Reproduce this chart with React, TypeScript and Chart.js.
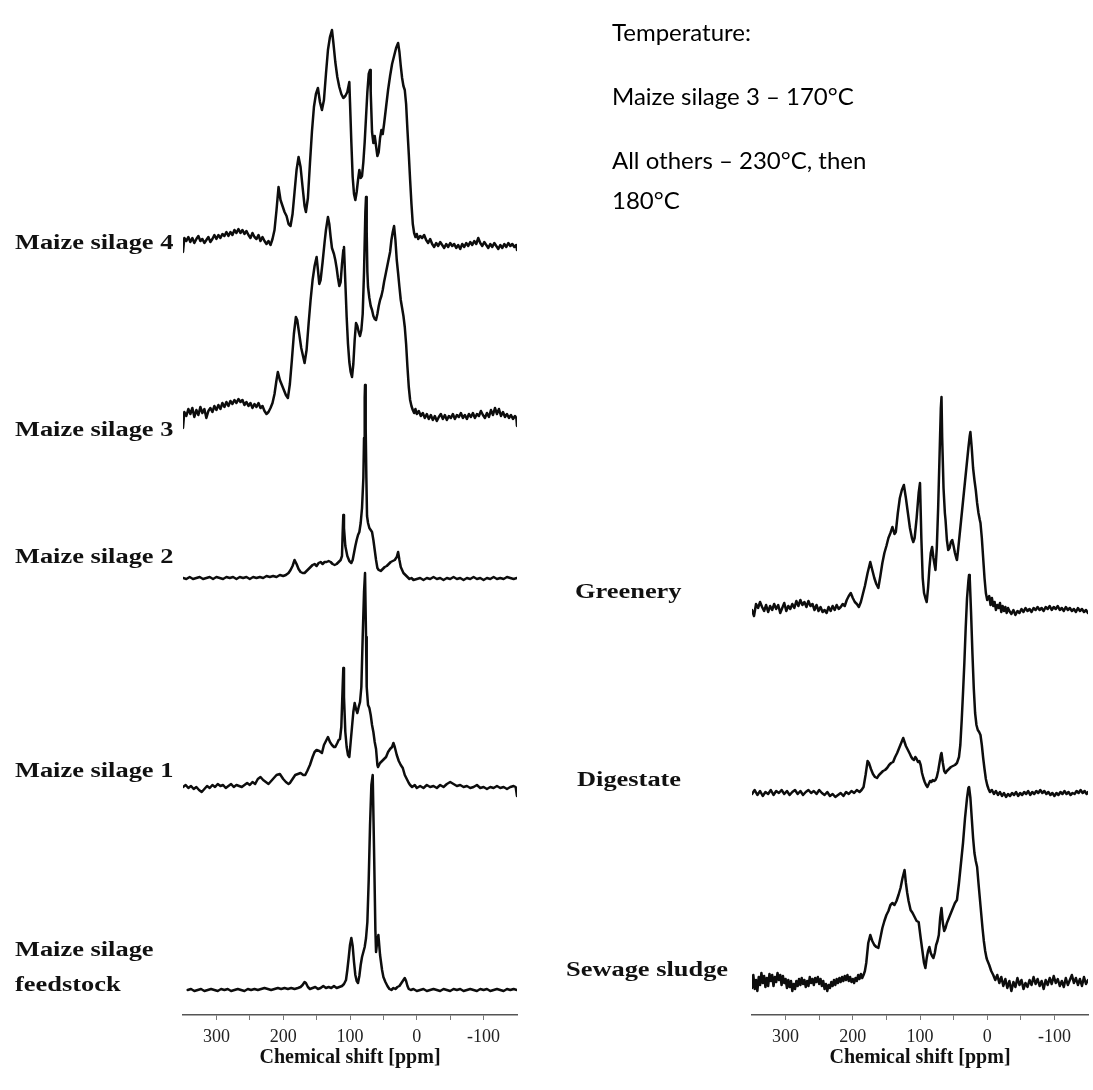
import React, { useEffect, useRef } from "react";
import { Chart, registerables } from "chart.js";

Chart.register(...registerables);

// ---------- axis ----------
const X_MIN = -150;
const X_MAX = 350;
const TICK_VALUES = [300, 250, 200, 150, 100, 50, 0, -50, -100];
const TICK_LABELS = ["300", "", "200", "", "100", "", "0", "", "-100"];
const AXIS_TITLE = "Chemical shift [ppm]";
const Y_MAX = 1015;

// ---------- series names ----------
const LEFT_NAMES = ["Maize silage 4", "Maize silage 3", "Maize silage 2", "Maize silage 1", "Maize silage\nfeedstock"];
const RIGHT_NAMES = ["Greenery", "Digestate", "Sewage sludge"];

// vertical stacking offsets (baseline of each trace)
const LEFT_OFFSETS = [773, 603, 437, 228, 25];
const RIGHT_OFFSETS = [407, 222, 32];

// ---------- spectra: [ppm, intensity above own baseline] ----------
const MAIZE_4 = [
  [350,-10],[348,4],[345,1],[342,5],[339,0],[336,4],[333,-1],[330,3],[327,6],[324,1],[321,3],[318,-1],[315,2],[312,5],[309,0],[306,3],[303,7],[300,3],[297,7],[294,4],[291,8],[288,6],[285,10],[282,6],[279,10],[276,7],[273,12],[270,9],[267,13],[264,9],[261,12],[258,8],[255,11],[252,7],[249,4],[246,9],[243,5],[240,3],[237,7],[234,1],[231,5],[228,1],[225,-2],[222,1],[219,-3],[216,3],[213,12],[210,32],[207,55],[204,42],[201,36],[198,30],[195,26],[192,18],[189,16],[186,28],[183,50],[180,72],[177,85],[174,75],[171,55],[168,36],[166,30],[163,44],[160,78],[157,110],[154,135],[151,148],[148,154],[145,140],[142,132],[139,142],[136,168],[133,192],[130,205],[127,212],[125,200],[122,180],[119,165],[116,155],[113,148],[110,144],[107,146],[104,150],[101,160],[100,140],[98,100],[96,65],[94,48],[92,42],[90,50],[88,62],[86,72],[84,64],[82,66],[80,80],[78,100],[76,125],[74,150],[72,168],[70,172],[69,150],[67,110],[65,99],[63,106],[61,96],[59,86],[57,90],[55,104],[53,112],[51,108],[49,118],[46,135],[43,152],[40,166],[37,178],[34,186],[31,194],[28,199],[26,190],[24,176],[22,164],[20,156],[18,152],[16,138],[14,112],[12,88],[10,62],[8,38],[6,18],[4,9],[2,5],[0,8],
  [-2,3],[-5,6],[-8,4],[-11,7],[-14,2],[-17,-1],[-20,3],[-23,-2],[-26,-5],[-29,-1],[-32,-4],[-35,0],[-38,-3],[-41,-6],[-44,-2],[-47,-5],[-50,-1],[-53,-4],[-56,-2],[-59,-6],[-62,-3],[-65,-7],[-68,-2],[-71,-5],[-74,-1],[-77,-4],[-80,0],[-83,-3],[-86,1],[-89,-2],[-92,4],[-95,-1],[-98,-4],[-101,0],[-104,-3],[-107,-6],[-110,-2],[-113,-5],[-116,-1],[-119,-4],[-122,-7],[-125,-3],[-128,-6],[-131,-2],[-134,-5],[-137,-1],[-140,-4],[-143,-2],[-146,-5],[-149,-3],[-150,-8]
];

const MAIZE_3 = [
  [350,-16],[348,0],[345,-4],[342,3],[339,-2],[336,4],[333,-5],[330,2],[327,-3],[324,5],[321,-1],[318,3],[315,-6],[312,1],[309,4],[306,0],[303,6],[300,2],[297,7],[294,3],[291,9],[288,5],[285,10],[282,6],[279,11],[276,8],[273,12],[270,9],[267,13],[264,10],[261,12],[258,7],[255,10],[252,6],[249,9],[246,4],[243,8],[240,5],[237,9],[234,4],[231,6],[228,1],[225,-2],[222,0],[219,4],[216,9],[213,18],[210,32],[208,40],[205,32],[202,27],[199,22],[196,17],[193,14],[190,28],[187,52],[184,78],[181,95],[179,92],[176,78],[173,64],[170,55],[168,49],[165,62],[162,88],[159,112],[156,132],[153,146],[150,155],[148,142],[146,128],[144,132],[141,150],[138,170],[136,182],[133,195],[131,188],[129,175],[127,164],[124,158],[122,152],[120,144],[118,134],[116,126],[114,130],[112,148],[110,162],[109,165],[107,130],[105,95],[103,68],[101,50],[99,40],[97,35],[95,48],[93,72],[91,89],[89,86],[87,80],[85,76],[83,82],[81,98],[79,140],[77,200],[76,215],[75,180],[74,140],[73,125],[71,114],[69,106],[67,102],[65,96],[63,93],[61,92],[59,98],[57,106],[55,112],[53,116],[51,122],[49,130],[46,140],[43,150],[40,160],[38,172],[36,180],[34,186],[32,172],[30,152],[28,139],[26,125],[24,112],[22,104],[20,96],[18,85],[16,68],[14,45],[12,25],[10,12],[8,6],[6,2],[4,-1],[2,3],[0,-2],
  [-3,1],[-6,-4],[-9,-1],[-12,-6],[-15,-2],[-18,-7],[-21,-3],[-24,-8],[-27,-4],[-30,-9],[-33,-5],[-36,-2],[-39,-7],[-42,-3],[-45,-8],[-48,-4],[-51,-6],[-54,-2],[-57,-7],[-60,-3],[-63,-5],[-66,-1],[-69,-6],[-72,-3],[-75,-7],[-78,-2],[-81,-5],[-84,-1],[-87,-6],[-90,-2],[-93,-4],[-96,1],[-99,-3],[-102,-6],[-105,-1],[-108,-5],[-111,2],[-114,-3],[-117,4],[-120,-2],[-123,3],[-126,-4],[-129,0],[-132,-5],[-135,-2],[-138,-6],[-141,-3],[-144,-7],[-147,-4],[-149,-6],[-150,-14]
];

const MAIZE_2 = [
  [350,0],[345,-1],[340,1],[335,-1],[330,0],[325,1],[320,-1],[315,0],[310,1],[305,-1],[300,1],[295,0],[290,-1],[285,1],[280,0],[275,1],[270,-1],[265,1],[260,0],[255,1],[250,-1],[245,1],[240,0],[235,1],[230,0],[225,2],[220,1],[215,2],[210,1],[205,3],[200,2],[196,3],[192,5],[189,8],[186,12],[183,18],[180,14],[177,9],[174,6],[171,5],[168,5],[165,7],[162,9],[159,11],[156,13],[153,14],[150,12],[147,15],[144,16],[141,14],[138,16],[135,16],[132,17],[129,16],[126,14],[123,13],[120,14],[117,16],[114,18],[112,22],[111,45],[110,63],[109,50],[107,32],[104,22],[101,17],[98,15],[96,18],[94,25],[92,32],[90,38],[88,43],[86,46],[84,55],[82,70],[80,100],[79,140],[78,180],[77.5,193],[76.5,150],[75.5,100],[74.5,62],[73,55],[71,50],[69,48],[67,46],[65,38],[63,28],[61,18],[59,10],[57,8],[54,7],[51,9],[48,11],[45,12],[42,14],[39,16],[36,17],[33,18],[30,21],[28,26],[26,18],[24,11],[22,8],[20,5],[17,3],[14,1],[11,-1],[8,0],[5,-2],[0,-1],
  [-5,0],[-10,-2],[-15,0],[-20,-1],[-25,1],[-30,-1],[-35,0],[-40,-2],[-45,0],[-50,-1],[-55,1],[-60,-1],[-65,0],[-70,-2],[-75,0],[-80,-1],[-85,1],[-90,-1],[-95,0],[-100,-2],[-105,0],[-110,-1],[-115,1],[-120,-1],[-125,0],[-130,-1],[-135,1],[-140,0],[-145,-1],[-150,0]
];

const MAIZE_1 = [
  [350,0],[346,2],[342,-1],[338,1],[334,-2],[330,0],[326,-3],[322,-5],[318,-2],[314,1],[310,-1],[306,2],[302,0],[298,3],[294,1],[290,2],[286,-1],[282,1],[278,3],[274,0],[270,2],[266,1],[262,0],[258,2],[254,4],[250,2],[246,5],[242,3],[238,8],[234,10],[230,7],[226,5],[222,3],[218,6],[214,9],[210,12],[205,13],[200,8],[196,5],[192,3],[190,4],[186,8],[182,12],[178,13],[174,14],[170,12],[167,12],[164,16],[160,22],[156,30],[153,35],[150,37],[146,36],[142,34],[139,42],[136,46],[133,50],[130,45],[127,42],[124,40],[122,40],[119,44],[117,47],[115,48],[113,60],[111,100],[110,119],[109,90],[107,55],[105,40],[103,32],[101,30],[99,45],[97,60],[95,75],[93,84],[91,78],[89,74],[87,80],[85,85],[83,100],[81,150],[79,195],[77.5,214],[76,150],[75,100],[73,82],[71,79],[69,72],[67,62],[65,55],[63,45],[61,38],[59,22],[58,20],[55,24],[52,26],[49,28],[46,30],[43,35],[40,38],[37,40],[35,44],[33,40],[30,32],[27,26],[24,22],[21,19],[18,12],[15,8],[12,4],[10,2],[7,0],[3,2],[0,-1],
  [-5,1],[-10,-1],[-15,2],[-20,0],[-25,1],[-30,-1],[-35,2],[-40,0],[-45,3],[-50,5],[-55,3],[-60,1],[-65,2],[-70,0],[-75,1],[-80,-1],[-85,0],[-90,2],[-95,-1],[-100,0],[-105,-2],[-110,0],[-115,-1],[-120,1],[-125,-1],[-130,0],[-135,-2],[-140,0],[-145,1],[-148,0],[-150,-9]
];

const MAIZE_FEEDSTOCK = [
  [343,0],[338,1],[333,-1],[328,0],[323,1],[318,-1],[313,0],[308,1],[303,0],[298,-1],[293,1],[288,0],[283,1],[278,-1],[273,0],[268,1],[263,0],[258,-1],[253,1],[248,0],[243,1],[238,0],[233,1],[228,2],[223,1],[218,0],[213,1],[208,2],[203,1],[198,2],[193,1],[188,2],[183,1],[178,2],[174,3],[171,5],[168,8],[166,7],[163,3],[160,1],[156,2],[152,3],[148,1],[144,2],[140,4],[136,2],[132,3],[128,2],[124,4],[120,2],[116,3],[112,4],[109,6],[106,10],[104,20],[102,32],[100,45],[98,52],[96,44],[94,28],[92,15],[90,9],[88,7],[86,14],[84,25],[82,33],[80,38],[78,43],[76,52],[74,68],[72,110],[70,165],[68,205],[66,215],[64,140],[62,60],[61,38],[59,50],[57.5,55],[55,35],[52,20],[50,13],[47,8],[44,4],[41,1],[38,0],[35,2],[32,1],[29,3],[26,4],[23,7],[20,10],[18,12],[16,9],[14,4],[12,1],[9,0],[5,1],[0,-1],
  [-5,0],[-10,1],[-15,-1],[-20,0],[-25,1],[-30,0],[-35,-1],[-40,1],[-45,0],[-50,-1],[-55,1],[-60,0],[-65,1],[-70,-1],[-75,0],[-80,1],[-85,0],[-90,-1],[-95,1],[-100,0],[-105,1],[-110,-1],[-115,0],[-120,1],[-125,0],[-130,-1],[-135,1],[-140,0],[-145,1],[-150,0]
];

const GREENERY = [
  [350,-2],[347,-8],[344,4],[341,0],[338,6],[335,1],[332,-3],[329,3],[326,-4],[323,2],[320,-2],[317,4],[314,-1],[311,3],[308,-5],[305,0],[302,5],[299,-3],[296,2],[293,-1],[290,4],[287,0],[284,7],[281,2],[278,8],[275,3],[272,6],[269,1],[266,7],[263,2],[260,4],[257,-2],[254,3],[251,-3],[248,1],[245,-4],[242,-2],[239,-5],[236,1],[233,-3],[230,2],[227,-2],[224,3],[221,-1],[218,1],[215,4],[212,2],[209,8],[206,12],[203,15],[200,10],[197,6],[194,4],[191,1],[188,6],[185,14],[182,22],[178,35],[174,46],[171,38],[168,30],[165,24],[162,20],[159,32],[156,45],[153,55],[150,62],[147,70],[144,75],[141,81],[138,74],[136,76],[133,95],[130,110],[127,118],[124,123],[121,110],[118,95],[115,80],[112,70],[110,66],[108,70],[105,90],[102,115],[100,125],[98,70],[96,30],[94,15],[92,10],[90,6],[88,20],[86,40],[84,55],[82,61],[80,50],[78,42],[77,38],[75,60],[73,100],[71,150],[69,200],[68,211],[67,170],[65,120],[63,95],[62,88],[60,68],[58,58],[56,60],[54,66],[52,68],[50,62],[48,55],[46,50],[45,48],[43,60],[40,80],[37,100],[34,120],[31,140],[28,160],[26,172],[25,176],[23,160],[21,140],[19,128],[17,118],[15,105],[13,95],[11,88],[10,85],[8,70],[6,50],[4,30],[2,15],[0,8],[-1,8],
  [-3,12],[-5,3],[-7,10],[-9,2],[-11,6],[-13,-2],[-15,3],[-17,0],[-19,5],[-21,-4],[-23,2],[-25,-3],[-27,1],[-29,-5],[-31,0],[-33,-3],[-36,-6],[-39,-2],[-42,-7],[-45,-3],[-48,-5],[-51,-1],[-54,-4],[-57,0],[-60,-3],[-63,-1],[-66,-4],[-69,0],[-72,-2],[-75,1],[-78,-2],[-81,0],[-84,-3],[-87,1],[-90,-1],[-93,2],[-96,-2],[-99,1],[-102,-1],[-105,2],[-108,-2],[-111,0],[-114,-3],[-117,1],[-120,-2],[-123,0],[-126,-3],[-129,-1],[-132,-4],[-135,0],[-138,-3],[-141,-1],[-144,-4],[-147,-2],[-150,-5]
];

const DIGESTATE = [
  [350,-1],[346,3],[342,-2],[338,2],[334,-3],[330,1],[326,-1],[322,3],[318,-2],[314,2],[310,0],[306,3],[302,-1],[298,2],[294,-2],[290,1],[286,3],[282,-1],[278,2],[274,-2],[270,1],[266,3],[262,0],[258,2],[254,-1],[250,3],[246,0],[242,-2],[238,1],[234,-3],[230,-1],[226,-4],[222,-2],[218,0],[214,-3],[210,1],[206,-1],[202,2],[198,0],[194,3],[190,1],[187,3],[184,6],[181,18],[178,32],[176,30],[173,24],[170,19],[167,16],[164,15],[161,18],[158,20],[155,22],[152,23],[149,25],[146,28],[143,30],[140,31],[137,36],[134,40],[131,45],[128,50],[125,55],[123,51],[121,47],[118,43],[115,39],[113,36],[111,34],[109,33],[107,36],[105,34],[103,31],[101,32],[99,28],[97,20],[95,15],[93,11],[91,8],[89,6],[87,9],[85,12],[83,11],[81,13],[79,12],[77,13],[75,16],[73,22],[71,30],[69,38],[68,40],[66,30],[64,22],[62,20],[60,22],[57,24],[54,26],[51,27],[48,28],[45,30],[42,36],[40,48],[38,72],[36,100],[34,130],[32,165],[30,195],[28,212],[27,218],[26,215],[24,180],[22,140],[20,105],[18,80],[16,68],[14,63],[12,61],[10,58],[8,48],[6,35],[4,24],[2,14],[0,8],[-2,4],
  [-4,1],[-7,3],[-10,-1],[-13,2],[-16,-2],[-19,1],[-22,-3],[-25,0],[-28,-4],[-31,-1],[-34,-3],[-37,0],[-40,-2],[-43,1],[-46,-3],[-49,0],[-52,-2],[-55,1],[-58,-1],[-61,2],[-64,-2],[-67,1],[-70,-1],[-73,2],[-76,0],[-79,3],[-82,0],[-85,2],[-88,-1],[-91,1],[-94,-2],[-97,0],[-100,-3],[-103,0],[-106,-2],[-109,1],[-112,-1],[-115,2],[-118,-1],[-121,1],[-124,-2],[-127,0],[-130,-1],[-133,2],[-136,0],[-139,3],[-142,0],[-145,2],[-148,-1],[-150,1]
];

const SEWAGE_SLUDGE = [
  [350,-5],[348,8],[346,-6],[344,3],[342,-8],[340,6],[338,-2],[336,10],[334,0],[332,7],[330,-4],[328,5],[326,-3],[324,9],[322,2],[320,8],[318,-3],[316,6],[314,1],[312,10],[310,3],[308,8],[306,-2],[304,7],[302,0],[300,4],[298,-5],[296,3],[294,-4],[292,2],[290,-8],[288,-1],[286,-6],[284,2],[282,-3],[280,4],[278,-2],[276,5],[274,-1],[272,3],[270,-4],[268,2],[266,-3],[264,6],[262,0],[260,4],[258,-2],[256,5],[254,1],[252,6],[250,-1],[248,4],[246,-3],[244,2],[242,-6],[240,-1],[238,-8],[236,-2],[234,-5],[232,1],[230,-3],[228,3],[226,-2],[224,4],[222,0],[220,5],[218,1],[216,6],[214,2],[212,7],[210,3],[208,8],[206,2],[204,6],[202,1],[200,4],[198,0],[196,5],[194,2],[192,8],[190,4],[188,9],[186,5],[184,8],[182,12],[180,20],[177,40],[174,48],[171,42],[168,38],[165,36],[162,35],[159,45],[156,55],[153,62],[150,68],[147,72],[144,78],[141,80],[138,78],[135,82],[132,88],[129,95],[126,105],[123,113],[121,100],[119,90],[117,82],[114,73],[111,70],[108,66],[105,62],[102,61],[99,45],[96,30],[94,20],[92,15],[90,25],[88,32],[86,36],[84,30],[82,27],[80,25],[78,30],[76,38],[74,42],[72,48],[70,65],[68,75],[66,60],[64,52],[62,55],[60,60],[57,65],[54,70],[51,75],[48,80],[45,83],[42,100],[39,120],[36,140],[33,165],[30,185],[28,195],[27,196],[25,185],[23,165],[21,145],[19,130],[17,122],[15,116],[13,100],[11,85],[9,70],[7,55],[5,42],[3,32],[1,25],[0,23],
  [-3,18],[-6,12],[-9,8],[-12,3],[-15,8],[-18,0],[-21,6],[-24,-3],[-27,4],[-30,-5],[-33,2],[-36,-8],[-39,1],[-42,-4],[-45,5],[-48,-2],[-51,3],[-54,-6],[-57,0],[-60,-4],[-63,3],[-66,-2],[-69,6],[-72,-1],[-75,4],[-78,-3],[-81,2],[-84,-6],[-87,3],[-90,-2],[-93,5],[-96,-1],[-99,7],[-102,0],[-105,4],[-108,-3],[-111,2],[-114,-4],[-117,5],[-120,-2],[-123,3],[-126,8],[-129,0],[-132,5],[-135,-2],[-138,4],[-141,-3],[-144,6],[-147,-1],[-150,3]
];

const LEFT_SERIES = [MAIZE_4, MAIZE_3, MAIZE_2, MAIZE_1, MAIZE_FEEDSTOCK];
const RIGHT_SERIES = [GREENERY, DIGESTATE, SEWAGE_SLUDGE];

// ---------- annotation text ----------
const NOTE_LINES = ["Temperature:", "Maize silage 3 \u2013 170\u00b0C", "All others \u2013 230\u00b0C, then", "180\u00b0C"];

// ---------- layout (positions only) ----------
const LEFT_LABEL_POS = [[15, 243], [15, 430], [15, 557], [15, 771], [15, 950]];
const RIGHT_LABEL_POS = [[575, 592], [577, 780], [566, 970]];
const NOTE_POS = [[612, 32], [612, 96], [612, 160], [612, 200]];

const SERIF = "'Liberation Serif', 'Times New Roman', serif";

function SpectraPanel(props: { series: number[][][]; offsets: number[]; left: number; width: number; padLeft: number; padRight: number }) {
  const ref = useRef<HTMLCanvasElement>(null);
  useEffect(() => {
    const chart = new Chart(ref.current as HTMLCanvasElement, {
      type: "line",
      data: {
        datasets: props.series.map((s, i) => ({
          data: s.map(([x, v]) => ({ x, y: v + props.offsets[i] })),
          borderColor: "#0d0d0d",
          borderWidth: 2.5,
          pointRadius: 0,
          tension: 0,
          fill: false,
          borderJoinStyle: "round",
          borderCapStyle: "round",
        })),
      },
      options: {
        animation: false,
        responsive: false,
        maintainAspectRatio: false,
        events: [],
        layout: { padding: { left: props.padLeft, right: props.padRight, top: 0, bottom: 0 } },
        plugins: { legend: { display: false }, tooltip: { enabled: false } },
        scales: {
          x: {
            type: "linear",
            reverse: true,
            min: X_MIN,
            max: X_MAX,
            afterBuildTicks: (s: any) => {
              s.ticks = TICK_VALUES.map((v) => ({ value: v }));
            },
            afterFit: (s: any) => {
              s.height = 75;
            },
            grid: { display: true, drawOnChartArea: false, drawTicks: true, tickLength: 5, color: "#777", lineWidth: 1 },
            border: { display: true, color: "#555", width: 1.5 },
            ticks: {
              autoSkip: false,
              maxRotation: 0,
              padding: 6,
              color: "#222",
              font: { family: SERIF, size: 18 },
              callback: (_v: any, i: number) => TICK_LABELS[i],
            },
            title: {
              display: true,
              text: AXIS_TITLE,
              color: "#111",
              font: { family: SERIF, size: 20, weight: "bold" },
              padding: { top: 0, bottom: 20 },
            },
          },
          y: { display: false, min: 0, max: Y_MAX },
        },
      } as any,
    });
    return () => chart.destroy();
  }, []);
  return (
    <canvas
      ref={ref}
      width={props.width}
      height={1090}
      style={{ position: "absolute", left: props.left, top: 0, width: props.width, height: 1090 }}
    />
  );
}

function SeriesLabel(props: { text: string; x: number; y: number }) {
  return (
    <div
      style={{
        position: "absolute",
        left: props.x,
        top: props.y - 12,
        fontFamily: SERIF,
        fontWeight: "bold",
        fontSize: 20,
        lineHeight: "35px",
        marginTop: -6,
        whiteSpace: "pre",
        color: "#111",
        transform: "scaleX(1.32)",
        transformOrigin: "left center",
      }}
    >
      {props.text}
    </div>
  );
}

export default function App() {
  return (
    <div style={{ position: "absolute", left: 0, top: 0, width: 1093, height: 1090, background: "#fff", overflow: "hidden" }}>
      <SpectraPanel series={LEFT_SERIES} offsets={LEFT_OFFSETS} left={0} width={540} padLeft={183} padRight={23} />
      <SpectraPanel series={RIGHT_SERIES} offsets={RIGHT_OFFSETS} left={560} width={533} padLeft={192} padRight={5} />
      {LEFT_NAMES.map((n, i) => (
        <SeriesLabel key={n} text={n} x={LEFT_LABEL_POS[i][0]} y={LEFT_LABEL_POS[i][1]} />
      ))}
      {RIGHT_NAMES.map((n, i) => (
        <SeriesLabel key={n} text={n} x={RIGHT_LABEL_POS[i][0]} y={RIGHT_LABEL_POS[i][1]} />
      ))}
      {NOTE_LINES.map((t, i) => (
        <div
          key={t}
          style={{
            position: "absolute",
            left: NOTE_POS[i][0],
            top: NOTE_POS[i][1] - 16,
            fontFamily: "Lato, 'Open Sans', sans-serif",
            fontSize: 24,
            lineHeight: "32px",
            color: "#000",
            whiteSpace: "nowrap",
          }}
        >
          {t}
        </div>
      ))}
    </div>
  );
}
